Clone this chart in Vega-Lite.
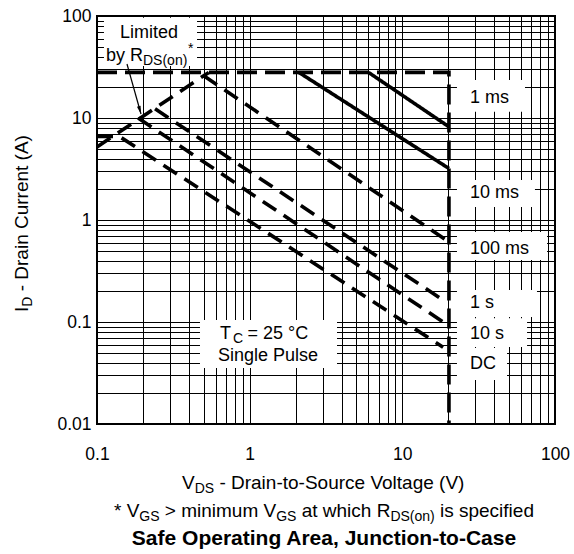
{
  "$schema": "https://vega.github.io/schema/vega-lite/v6.json",
  "width": 458,
  "height": 408,
  "autosize": {"type": "none"},
  "padding": {"left": 97, "top": 16, "right": 19, "bottom": 130},
  "background": "white",
  "config": {
    "view": {"stroke": "black", "strokeWidth": 2},
    "font": "Liberation Sans",
    "text": {"font": "Liberation Sans", "color": "black"}
  },
  "datasets": {
    "curves": [
      {"series": "limit", "i": 0, "x": 0.1, "y": 28},
      {"series": "limit", "i": 1, "x": 20.2, "y": 28},
      {"series": "limit", "i": 2, "x": 20.2, "y": 0.01},
      {"series": "rds", "i": 0, "x": 0.1, "y": 5.2},
      {"series": "rds", "i": 1, "x": 0.54, "y": 28},
      {"series": "1 ms", "i": 0, "x": 6, "y": 28},
      {"series": "1 ms", "i": 1, "x": 20.2, "y": 8.2},
      {"series": "10 ms", "i": 0, "x": 2.1, "y": 28},
      {"series": "10 ms", "i": 1, "x": 20.2, "y": 3.2},
      {"series": "100 ms", "i": 0, "x": 0.5, "y": 26},
      {"series": "100 ms", "i": 1, "x": 20.2, "y": 0.61},
      {"series": "1 s", "i": 0, "x": 0.24, "y": 12.3},
      {"series": "1 s", "i": 1, "x": 18.5, "y": 0.164},
      {"series": "10 s", "i": 0, "x": 0.186, "y": 10},
      {"series": "10 s", "i": 1, "x": 18.5, "y": 0.1},
      {"series": "DC", "i": 0, "x": 0.1, "y": 6.6},
      {"series": "DC", "i": 1, "x": 0.14, "y": 6.6},
      {"series": "DC", "i": 2, "x": 18.5, "y": 0.0565}
    ],
    "boxes": [
      {"name": "limited", "x": 0.1111, "x2": 0.452, "y": 32.4, "y2": 96},
      {"name": "1 ms", "x": 22.8, "x2": 63.6, "y": 11.5, "y2": 23.6},
      {"name": "10 ms", "x": 22.8, "x2": 73.9, "y": 1.34, "y2": 2.47},
      {"name": "100 ms", "x": 22.8, "x2": 88.7, "y": 0.405, "y2": 0.762},
      {"name": "1 s", "x": 22.8, "x2": 76.2, "y": 0.112, "y2": 0.206},
      {"name": "10 s", "x": 22.8, "x2": 65.6, "y": 0.0569, "y2": 0.109},
      {"name": "DC", "x": 22.8, "x2": 48.5, "y": 0.027, "y2": 0.0556},
      {"name": "tc", "x": 0.4727, "x2": 3.733, "y": 0.0354, "y2": 0.1046}
    ],
    "notes": [
      {"t": "Limited", "x": 0.2191, "y": 60.3, "k": "c18"},
      {"t": "by R", "x": 0.1146, "y": 36.2, "k": "m18"},
      {"t": "DS(on)", "x": 0.2001, "y": 36.2, "k": "sub"},
      {"t": "*", "x": 0.3946, "y": 36.2, "k": "sup"},
      {"t": "1 ms", "x": 27.75, "y": 13.9, "k": "m18"},
      {"t": "10 ms", "x": 27.75, "y": 1.628, "k": "m18"},
      {"t": "100 ms", "x": 27.75, "y": 0.46, "k": "m18"},
      {"t": "1 s", "x": 27.75, "y": 0.1359, "k": "m18"},
      {"t": "10 s", "x": 27.75, "y": 0.06752, "k": "m18"},
      {"t": "DC", "x": 27.75, "y": 0.0343, "k": "m18"},
      {"t": "T", "x": 0.6392, "y": 0.06752, "k": "m18"},
      {"t": "C", "x": 0.7777, "y": 0.06752, "k": "sub"},
      {"t": "= 25 °C", "x": 0.9678, "y": 0.06752, "k": "m18"},
      {"t": "Single Pulse", "x": 1.3184, "y": 0.04109, "k": "c18"},
      {"t": "I", "x": 0.03531, "y": 0.12532, "k": "ym"},
      {"t": "D", "x": 0.03531, "y": 0.14125, "k": "ys"},
      {"t": "- Drain Current (A)", "x": 0.03531, "y": 0.19994, "k": "ym"},
      {"t": "V", "x": 0.3603, "y": 0.002307, "k": "m19"},
      {"t": "DS", "x": 0.4364, "y": 0.002307, "k": "sub"},
      {"t": "- Drain-to-Source Voltage (V)", "x": 0.63344, "y": 0.002307, "k": "m19"},
      {"t": "* V", "x": 0.1292, "y": 0.001225, "k": "m19"},
      {"t": "GS", "x": 0.1893, "y": 0.001225, "k": "sub"},
      {"t": "> minimum V", "x": 0.27799, "y": 0.001225, "k": "m19"},
      {"t": "GS", "x": 1.4922, "y": 0.001225, "k": "sub"},
      {"t": "at which R", "x": 2.1914, "y": 0.001225, "k": "m19"},
      {"t": "DS(on)", "x": 8.353, "y": 0.001225, "k": "sub"},
      {"t": "is specified", "x": 17.646, "y": 0.001225, "k": "m19"},
      {"t": "Safe Operating Area, Junction-to-Case", "x": 3.068, "y": 0.000644, "k": "bold"}
    ]
  },
  "encoding": {
    "x": {
      "field": "x",
      "type": "quantitative",
      "scale": {"type": "log", "domain": [0.1, 100], "nice": false},
      "axis": {
        "title": null,
        "values": [0.1, 0.2, 0.3, 0.4, 0.5, 0.6, 0.7, 0.8, 0.9, 1, 2, 3, 4, 5, 6, 7, 8, 9, 10, 20, 30, 40, 50, 60, 70, 80, 90, 100],
        "format": "~g",
        "labelExpr": "(datum.value == 0.1 || datum.value == 1 || datum.value == 10 || datum.value == 100) ? datum.label : ''",
        "grid": true,
        "gridColor": "black",
        "gridWidth": 1,
        "gridOpacity": 1,
        "domain": false,
        "ticks": false,
        "tickSize": 0,
        "labelPadding": 21,
        "labelFontSize": 17.5,
        "labelFont": "Liberation Sans",
        "labelColor": "black",
        "labelFlush": false,
        "labelOverlap": false,
        "labelBound": false
      }
    },
    "y": {
      "field": "y",
      "type": "quantitative",
      "scale": {"type": "log", "domain": [0.01, 100], "nice": false},
      "axis": {
        "title": null,
        "values": [0.01, 0.02, 0.03, 0.04, 0.05, 0.06, 0.07, 0.08, 0.09, 0.1, 0.2, 0.3, 0.4, 0.5, 0.6, 0.7, 0.8, 0.9, 1, 2, 3, 4, 5, 6, 7, 8, 9, 10, 20, 30, 40, 50, 60, 70, 80, 90, 100],
        "format": "~g",
        "labelExpr": "(datum.value == 0.01 || datum.value == 0.1 || datum.value == 1 || datum.value == 10 || datum.value == 100) ? datum.label : ''",
        "grid": true,
        "gridColor": "black",
        "gridWidth": 1,
        "gridOpacity": 1,
        "domain": false,
        "ticks": false,
        "tickSize": 0,
        "labelPadding": 6,
        "labelFontSize": 17.5,
        "labelFont": "Liberation Sans",
        "labelColor": "black",
        "labelFlush": false,
        "labelOverlap": false,
        "labelBound": false
      }
    }
  },
  "layer": [
    {
      "data": {"name": "boxes"},
      "mark": {"type": "rect", "fill": "white", "strokeWidth": 0},
      "encoding": {
        "x2": {"field": "x2"},
        "y2": {"field": "y2"}
      }
    },
    {
      "data": {"name": "curves"},
      "mark": {"type": "line", "color": "black", "strokeWidth": 3.6},
      "encoding": {
        "detail": {"field": "series", "type": "nominal"},
        "order": {"field": "i", "type": "quantitative"},
        "strokeDash": {
          "field": "series",
          "type": "nominal",
          "scale": {
            "domain": ["limit", "rds", "1 ms", "10 ms", "100 ms", "1 s", "10 s", "DC"],
            "range": [[20, 8], [16, 9], [1, 0], [1, 0], [16, 9], [16, 9], [16, 9], [16, 9]]
          },
          "legend": null
        }
      }
    },
    {
      "data": {"values": [{"x": 0.1572, "y": 33.83, "x2": 0.1942, "y2": 10.945}]},
      "mark": {"type": "rule", "color": "black", "strokeWidth": 1.2},
      "encoding": {
        "x2": {"field": "x2"},
        "y2": {"field": "y2"}
      }
    },
    {
      "data": {"values": [{"x": 0.191, "y": 11.93}]},
      "mark": {"type": "point", "shape": "M0,1L-0.45,-1L0.45,-1Z", "filled": true, "color": "black", "size": 70, "angle": 344.4, "opacity": 1}
    },
    {
      "data": {"name": "notes"},
      "transform": [{"filter": "datum.k == 'c18'"}],
      "mark": {"type": "text", "fontSize": 18, "align": "center", "baseline": "alphabetic", "color": "black"},
      "encoding": {"text": {"field": "t"}}
    },
    {
      "data": {"name": "notes"},
      "transform": [{"filter": "datum.k == 'm18'"}],
      "mark": {"type": "text", "fontSize": 18, "align": "left", "baseline": "alphabetic", "color": "black"},
      "encoding": {"text": {"field": "t"}}
    },
    {
      "data": {"name": "notes"},
      "transform": [{"filter": "datum.k == 'sub'"}],
      "mark": {"type": "text", "fontSize": 14, "align": "left", "baseline": "alphabetic", "dy": 4, "color": "black"},
      "encoding": {"text": {"field": "t"}}
    },
    {
      "data": {"name": "notes"},
      "transform": [{"filter": "datum.k == 'sup'"}],
      "mark": {"type": "text", "fontSize": 14, "align": "left", "baseline": "alphabetic", "dy": -8, "color": "black"},
      "encoding": {"text": {"field": "t"}}
    },
    {
      "data": {"name": "notes"},
      "transform": [{"filter": "datum.k == 'm19'"}],
      "mark": {"type": "text", "fontSize": 19, "align": "left", "baseline": "alphabetic", "color": "black"},
      "encoding": {"text": {"field": "t"}}
    },
    {
      "data": {"name": "notes"},
      "transform": [{"filter": "datum.k == 'ym'"}],
      "mark": {"type": "text", "fontSize": 19, "align": "left", "baseline": "alphabetic", "angle": 270, "color": "black"},
      "encoding": {"text": {"field": "t"}}
    },
    {
      "data": {"name": "notes"},
      "transform": [{"filter": "datum.k == 'ys'"}],
      "mark": {"type": "text", "fontSize": 14, "align": "left", "baseline": "alphabetic", "angle": 270, "dy": 4, "color": "black"},
      "encoding": {"text": {"field": "t"}}
    },
    {
      "data": {"name": "notes"},
      "transform": [{"filter": "datum.k == 'bold'"}],
      "mark": {"type": "text", "fontSize": 21, "fontWeight": "bold", "align": "center", "baseline": "alphabetic", "color": "black"},
      "encoding": {"text": {"field": "t"}}
    }
  ]
}
